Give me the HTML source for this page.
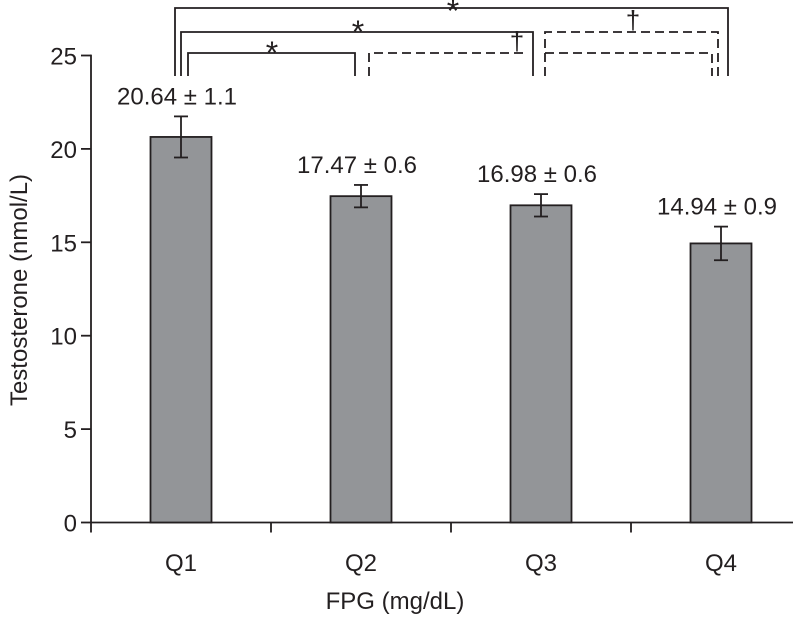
<!DOCTYPE html>
<html><head><meta charset="utf-8"><style>
html,body{margin:0;padding:0;background:#fff;}
svg text{font-family:"Liberation Sans",sans-serif;fill:#231f20;}
</style></head><body>
<svg id="chart" width="793" height="616" viewBox="0 0 793 616" xmlns="http://www.w3.org/2000/svg">
<g id="axes"></g><g id="bars"></g><g id="brackets" stroke="#231f20" stroke-width="1.8" fill="none"></g>
</svg>
<script>
const categories = ["Q1","Q2","Q3","Q4"];
const values = [20.64, 17.47, 16.98, 14.94];
const errors = [1.1, 0.6, 0.6, 0.9];
const valueLabels = ["20.64 \u00b1 1.1","17.47 \u00b1 0.6","16.98 \u00b1 0.6","14.94 \u00b1 0.9"];
const yTicks = [0,5,10,15,20,25];

const NS="http://www.w3.org/2000/svg";
const x0=91, band=180, y0=522.5, pxPerUnit=18.68;
function xScale(i){return x0+band*i+band/2;}
function yScale(v){return y0-v*pxPerUnit;}
function mk(tag,attrs,parent){const e=document.createElementNS(NS,tag);for(const k in attrs)e.setAttribute(k,attrs[k]);parent.appendChild(e);return e;}
const axes=document.getElementById('axes'), bars=document.getElementById('bars'), br=document.getElementById('brackets');
const st={stroke:"#231f20","stroke-width":1.8};
const FS=24;

let yl=mk('line',Object.assign({x1:x0,y1:yScale(25)-0.9,x2:x0,y2:y0},st),axes);


let xl=mk('line',Object.assign({x1:x0,y1:y0,x2:793,y2:y0},st),axes);


yTicks.forEach(t=>{
  const y=yScale(t);
  let tk=mk('line',Object.assign({x1:x0-10,y1:y,x2:x0,y2:y},st),axes);
  
  
  let tx=mk('text',{x:x0-14,y:y+9,"text-anchor":"end","font-size":FS},axes);
  tx.textContent=t;
  
  
});
for(let i=0;i<=categories.length;i++){
  const x=x0+band*i;
  let tk=mk('line',Object.assign({x1:x,y1:y0,x2:x,y2:y0+10},st),axes);
  
  
}
categories.forEach((c,i)=>{
  let tx=mk('text',{x:xScale(i),y:571,"text-anchor":"middle","font-size":FS},axes);
  tx.textContent=c;
  
  
});
let yt=mk('text',{x:0,y:0,transform:"translate(27,290) rotate(-90)","text-anchor":"middle","font-size":FS},axes);
yt.textContent="Testosterone (nmol/L)";


let xt=mk('text',{x:395,y:609,"text-anchor":"middle","font-size":FS},axes);
xt.textContent="FPG (mg/dL)";



values.forEach((v,i)=>{
  const cx=xScale(i), w=61;
  let r=mk('rect',{x:cx-w/2,y:yScale(v),width:w,height:y0-yScale(v),fill:"#939598",stroke:"#231f20","stroke-width":1.8},bars);
  
  
  const top=yScale(v+errors[i]), bot=yScale(v-errors[i]);
  let g=mk('g',{},bars);
  
  
  mk('line',Object.assign({x1:cx,y1:top,x2:cx,y2:bot},st),g);
  mk('line',Object.assign({x1:cx-7,y1:top,x2:cx+7,y2:top},st),g);
  mk('line',Object.assign({x1:cx-7,y1:bot,x2:cx+7,y2:bot},st),g);
  let lb=mk('text',{x:cx-4,y:top-12,"text-anchor":"middle","font-size":FS},bars);
  lb.textContent=valueLabels[i];
  
  
});

function path(d,dashed){const p=mk('path',{d:d},br);if(dashed)p.setAttribute('stroke-dasharray','9,5');return p;}
const bot=76;
let p;
p=path(`M175,${bot} V8 H728 V${bot}`);
p=path(`M181,${bot} V32 H533 V${bot}`);
p=path(`M188,${bot} V53 H355 V${bot}`);
p=path(`M369,${bot} V53 H528`,true);
p=path(`M545,${bot} V32 H718 V${bot}`,true);
p=path(`M545,53 H712 V${bot}`,true);
const marks=[["*",453,22,32],["*",358,43,32],["*",272,64,32],["\u2020",517,50,26],["\u2020",633,29,26]];
marks.forEach(m=>{
  let t=mk('text',{x:m[1],y:m[2],"text-anchor":"middle","font-size":m[3],stroke:"none"},document.getElementById('chart'));
  t.textContent=m[0];
  
  
});
</script>
</body></html>
